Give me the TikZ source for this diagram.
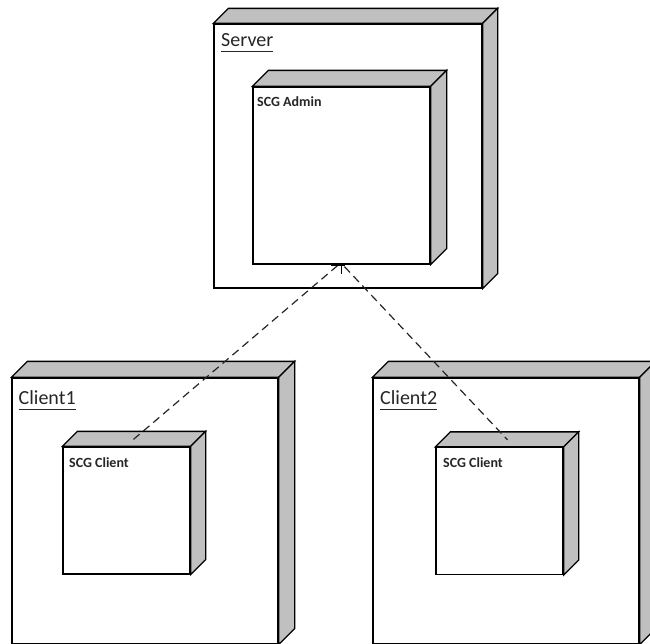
\documentclass[tikz,border=0pt]{standalone}
\usepackage{fontspec}
\setmainfont{Carlito}
\begin{document}
\begin{tikzpicture}[x=1pt,y=-1pt,
  front/.style={draw=black, line width=1.3pt, fill=white, inner sep=0pt},
  side/.style={draw=black, line width=1.3pt, fill=boxgray, line join=miter},
  biglabel/.style={anchor=base west, inner sep=0pt, text=black!85, font=\fontsize{20}{24}\selectfont},
  smalllabel/.style={anchor=base west, inner sep=0pt, text=black!85, font=\fontsize{14}{17}\selectfont\bfseries},
  dep/.style={draw=black!85, line width=1.2pt, dash pattern=on 8pt off 5pt}]
\definecolor{boxgray}{RGB}{192,192,192}
\useasboundingbox (0,0) rectangle (650,643);
\clip (0,0) rectangle (650,643);

% 3D node box: front face as a named node, top and right faces drawn from its corners
\newcommand{\depthfaces}[2]{%
  \path[side] (#1.north west) -- ++(#2,-#2) -- ([shift={(#2,-#2)}]#1.north east) -- (#1.north east) -- cycle;
  \path[side] (#1.north east) -- ++(#2,-#2) -- ([shift={(#2,-#2)}]#1.south east) -- (#1.south east) -- cycle;
}

% Server
\node[front, minimum width=268pt, minimum height=264pt] (server) at (348,156) {};
\depthfaces{server}{15}
\node[biglabel] (serverlbl) at (221,46) {Server};
\draw[line width=1pt, black!85] ([yshift=-5.5pt]serverlbl.base west) -- ([yshift=-5.5pt]serverlbl.base east);

% SCG Admin
\node[front, minimum width=177pt, minimum height=177pt] (admin) at (341.5,175.5) {};
\depthfaces{admin}{16}
\node[smalllabel] (adminlbl) at (257,106) {SCG Admin};

% Client1
\node[front, minimum width=266pt, minimum height=266pt] (client1) at (145,511) {};
\depthfaces{client1}{16}
\node[biglabel] (client1lbl) at (18.5,404) {Client1};
\draw[line width=1pt, black!85] ([yshift=-5.5pt]client1lbl.base west) -- ([yshift=-5.5pt]client1lbl.base east);

\node[front, minimum width=127pt, minimum height=127pt] (scgc1) at (126.5,510.5) {};
\depthfaces{scgc1}{15}
\node[smalllabel] (scgc1lbl) at (69,467) {SCG Client};

% Client2
\node[front, minimum width=266pt, minimum height=266pt] (client2) at (506,511) {};
\depthfaces{client2}{16}
\node[biglabel] (client2lbl) at (380,404) {Client2};
\draw[line width=1pt, black!85] ([yshift=-5.5pt]client2lbl.base west) -- ([yshift=-5.5pt]client2lbl.base east);

\node[front, minimum width=127pt, minimum height=127pt] (scgc2) at (499.5,511) {};
\depthfaces{scgc2}{15}
\node[smalllabel] (scgc2lbl) at (443,467) {SCG Client};

% dependency connectors meeting under SCG Admin
\coordinate (hubl) at ([xshift=-4pt,yshift=-1pt]admin.south);
\coordinate (hubr) at ([xshift=3pt,yshift=-2pt]admin.south);
\coordinate (end1) at ([xshift=7pt,yshift=7pt]scgc1.north);
\coordinate (end2) at ([xshift=8pt,yshift=7pt]scgc2.north);
\draw[dep] (hubl) -- (end1);
\draw[dep] (hubr) -- (end2);
% small tick mark at the meeting point
\draw[line width=1.1pt] ([xshift=-11pt,yshift=-1pt]admin.south) -- ([xshift=3pt,yshift=-1pt]admin.south);
\draw[line width=1.5pt] (admin.south) -- ++(0,9);
\end{tikzpicture}
\end{document}
